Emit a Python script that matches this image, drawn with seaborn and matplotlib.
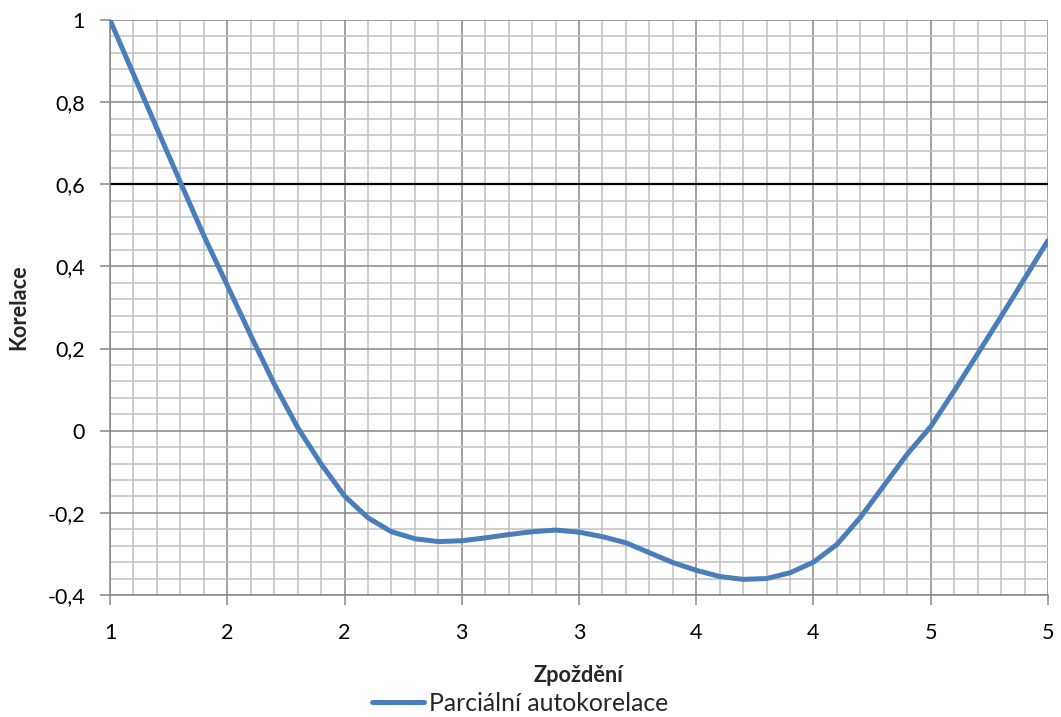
import matplotlib
matplotlib.use("Agg")
import matplotlib.pyplot as plt
from matplotlib.ticker import MultipleLocator, FixedLocator
import numpy as np
import pandas as pd
import seaborn as sns

# Partial autocorrelation sampled along the lag axis
lag = [1.0, 1.1, 1.2, 1.3, 1.4, 1.5, 1.6, 1.7, 1.8, 1.9,
       2.0, 2.1, 2.2, 2.3, 2.4, 2.5, 2.6, 2.7, 2.8, 2.9,
       3.0, 3.1, 3.2, 3.3, 3.4, 3.5, 3.6, 3.7, 3.8, 3.9,
       4.0, 4.1, 4.2, 4.3, 4.4, 4.5, 4.6, 4.7, 4.8, 4.9, 5.0]
pacf = [1.000, 0.868, 0.736, 0.605, 0.475, 0.354, 0.232, 0.114, 0.008, -0.081,
        -0.159, -0.212, -0.246, -0.263, -0.270, -0.268, -0.261, -0.253, -0.246, -0.242,
        -0.247, -0.258, -0.273, -0.297, -0.321, -0.340, -0.355, -0.362, -0.360, -0.346,
        -0.320, -0.277, -0.211, -0.134, -0.057, 0.010, 0.097, 0.187, 0.278, 0.370, 0.463]

threshold = 0.6

x_ticks = [1.0, 1.5, 2.0, 2.5, 3.0, 3.5, 4.0, 4.5, 5.0]
x_tick_labels = ["1", "2", "2", "3", "3", "4", "4", "5", "5"]
y_ticks = [-0.4, -0.2, 0.0, 0.2, 0.4, 0.6, 0.8, 1.0]
y_tick_labels = ["-0,4", "-0,2", "0", "0,2", "0,4", "0,6", "0,8", "1"]

series_name = "Parciální autokorelace"
x_title = "Zpoždění"
y_title = "Korelace"

df = pd.DataFrame({"lag": lag, "pacf": pacf})

sns.set_theme(style="white")
plt.rcParams["font.family"] = ["Lato", "DejaVu Sans"]

fig = plt.figure(figsize=(10.61, 7.17), dpi=100)
ax = fig.add_axes([0.1037, 0.1702, 0.9877 - 0.1037, 0.9721 - 0.1702])

major_c = "#868686"
minor_c = "#c0c0c0"
line_c = "#4a7ebb"

ax.set_xlim(1, 5)
ax.set_ylim(-0.4, 1.0)
ax.xaxis.set_major_locator(FixedLocator(x_ticks))
ax.yaxis.set_major_locator(FixedLocator(y_ticks))
ax.xaxis.set_minor_locator(MultipleLocator(0.1))
ax.yaxis.set_minor_locator(MultipleLocator(0.04))
ax.grid(True, which="minor", color=minor_c, linewidth=1.1, zorder=0)
ax.grid(True, which="major", color=major_c, linewidth=1.1, zorder=0.5)
ax.set_axisbelow(True)

ax.axhline(threshold, color="black", linewidth=1.6, zorder=2)

sns.lineplot(data=df, x="lag", y="pacf", ax=ax, color=line_c,
             linewidth=3.6, zorder=3, legend=False,
             solid_capstyle="round", solid_joinstyle="round")

ax.set_xticks(x_ticks)
ax.set_xticklabels(x_tick_labels)
ax.set_yticks(y_ticks)
ax.set_yticklabels(y_tick_labels)

for side in ("top", "right"):
    ax.spines[side].set_visible(False)
for side in ("left", "bottom"):
    ax.spines[side].set_color(major_c)
    ax.spines[side].set_linewidth(1.1)

ax.tick_params(axis="both", which="major", direction="out", length=7,
               width=1.1, color=major_c, labelsize=15.5, labelcolor="black",
               left=True, bottom=True)
ax.tick_params(axis="x", which="major", pad=13)
ax.tick_params(axis="y", which="major", pad=11)
ax.tick_params(axis="both", which="minor", length=0)

ax.set_xlabel(x_title, fontsize=15.7, fontweight="bold", labelpad=16)
ax.set_ylabel(y_title, fontsize=15.7, fontweight="bold", labelpad=13)

handle = plt.Line2D([], [], color=line_c, linewidth=3.6, solid_capstyle="round")
fig.legend([handle], [series_name], loc="center", bbox_to_anchor=(0.490, 0.019),
           frameon=False, fontsize=17.8, handlelength=2.1, handletextpad=0.2,
           borderaxespad=0)

fig.savefig("out.png", dpi=100, facecolor="white")
